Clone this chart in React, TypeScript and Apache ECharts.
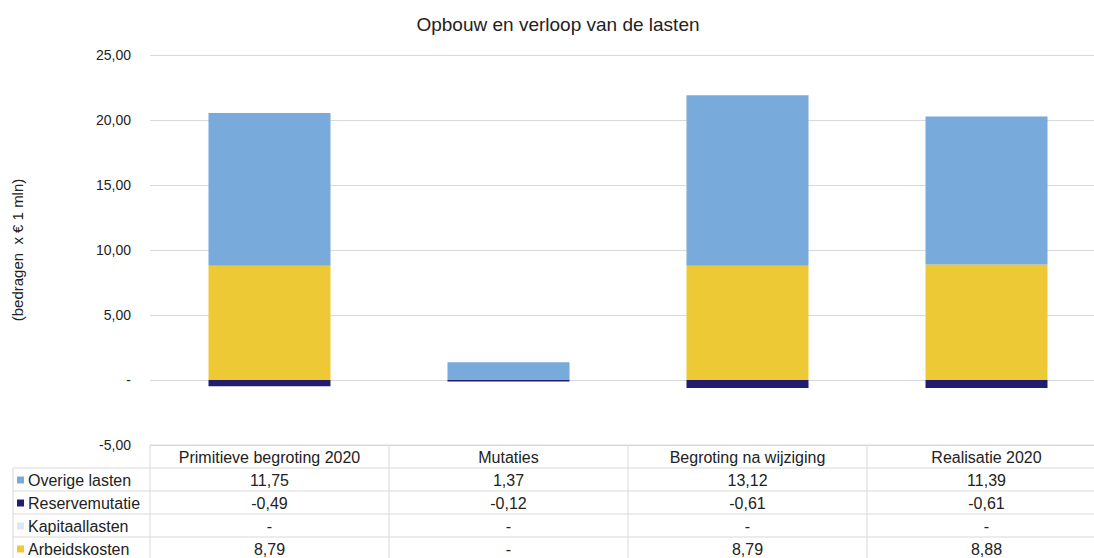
import React, { useEffect, useRef } from "react";
import * as echarts from "echarts";

const categories = ["Primitieve begroting 2020", "Mutaties", "Begroting na wijziging", "Realisatie 2020"];
const seriesNames = ["Overige lasten", "Reservemutatie", "Kapitaallasten", "Arbeidskosten"];
const overigeLasten = [11.75, 1.37, 13.12, 11.39];
const reservemutatie = [-0.49, -0.12, -0.61, -0.61];
const kapitaallasten = [0, 0, 0, 0];
const arbeidskosten = [8.79, 0, 8.79, 8.88];
const yTicks = { min: -5, max: 25, interval: 5 };

const colors = {
  "Overige lasten": "#78aadc",
  Reservemutatie: "#221d6e",
  Kapitaallasten: "#dde8f4",
  Arbeidskosten: "#ecc935",
};

const fmt = (v: number) => (v === 0 ? "-" : v.toFixed(2).replace(".", ","));

export default function App() {
  const ref = useRef<HTMLDivElement>(null);
  useEffect(() => {
    document.body.style.margin = "0";
    const chart = echarts.init(ref.current!, null, { renderer: "svg" });
    const font = "Arial, 'Liberation Sans', sans-serif";
    const gridLeft = 150;
    const colW = 239;
    const gridTop = 55;
    const gridBottomY = 445;
    const rowTops = [445, 468, 491, 514, 537, 560];
    const tableLeft = 13;
    const lineColor = "#d9d9d9";
    const textColor = "#222";
    const tableFont = `16px ${font}`;
    const values = [overigeLasten, reservemutatie, kapitaallasten, arbeidskosten];

    const graphics: any[] = [];
    graphics.push({ type: "line", shape: { x1: gridLeft, y1: rowTops[0], x2: 1110, y2: rowTops[0] }, style: { stroke: lineColor, lineWidth: 1 }, silent: true });
    for (let r = 1; r < rowTops.length; r++) {
      graphics.push({ type: "line", shape: { x1: tableLeft, y1: rowTops[r], x2: 1110, y2: rowTops[r] }, style: { stroke: lineColor, lineWidth: 1 }, silent: true });
    }
    graphics.push({ type: "line", shape: { x1: tableLeft, y1: rowTops[1], x2: tableLeft, y2: 560 }, style: { stroke: lineColor, lineWidth: 1 }, silent: true });
    for (let c = 0; c < categories.length; c++) {
      const x = gridLeft + c * colW;
      graphics.push({ type: "line", shape: { x1: x, y1: rowTops[0], x2: x, y2: 560 }, style: { stroke: lineColor, lineWidth: 1 }, silent: true });
    }
    categories.forEach((cat, c) => {
      graphics.push({
        type: "text",
        x: gridLeft + c * colW + colW / 2,
        y: (rowTops[0] + rowTops[1]) / 2 + 1,
        style: { text: cat, fill: textColor, font: tableFont, align: "center", verticalAlign: "middle" },
        silent: true,
      });
    });
    seriesNames.forEach((name, r) => {
      const cy = (rowTops[r + 1] + rowTops[r + 2]) / 2 + 1;
      graphics.push({ type: "rect", shape: { x: 17, y: cy - 4, width: 7, height: 7 }, style: { fill: (colors as any)[name] }, silent: true });
      graphics.push({
        type: "text",
        x: 28,
        y: cy,
        style: { text: name, fill: textColor, font: tableFont, align: "left", verticalAlign: "middle" },
        silent: true,
      });
      values[r].forEach((v, c) => {
        graphics.push({
          type: "text",
          x: gridLeft + c * colW + colW / 2,
          y: cy,
          style: { text: fmt(v), fill: textColor, font: tableFont, align: "center", verticalAlign: "middle" },
          silent: true,
        });
      });
    });

    const barW = 122;
    chart.setOption({
      animation: false,
      backgroundColor: "#fff",
      title: {
        text: "Opbouw en verloop van de lasten",
        left: 553,
        textAlign: "center",
        top: 10,
        textStyle: { fontFamily: font, fontSize: 19, fontWeight: "normal", color: textColor },
      },
      grid: { left: gridLeft, top: gridTop, width: colW * categories.length, height: gridBottomY - gridTop },
      xAxis: {
        type: "category",
        data: categories,
        axisLine: { show: false },
        axisTick: { show: false },
        axisLabel: { show: false },
      },
      yAxis: {
        type: "value",
        min: yTicks.min,
        max: yTicks.max,
        interval: yTicks.interval,
        name: "(bedragen  x € 1 mln)",
        nameLocation: "middle",
        nameGap: 125,
        nameRotate: 90,
        nameTextStyle: { fontFamily: font, fontSize: 15, color: textColor },
        axisLine: { show: false },
        axisTick: { show: false },
        axisLabel: {
          margin: 19,
          fontFamily: font,
          fontSize: 14,
          color: textColor,
          formatter: (v: number) => (v === 0 ? "-" : v.toFixed(2).replace(".", ",")),
        },
        splitLine: { lineStyle: { color: lineColor, width: 1 } },
      },
      series: [
        { name: "Arbeidskosten", type: "bar", stack: "s", data: arbeidskosten, barWidth: barW, itemStyle: { color: colors.Arbeidskosten } },
        { name: "Kapitaallasten", type: "bar", stack: "s", data: kapitaallasten, barWidth: barW, itemStyle: { color: colors.Kapitaallasten } },
        { name: "Overige lasten", type: "bar", stack: "s", data: overigeLasten, barWidth: barW, itemStyle: { color: colors["Overige lasten"] } },
        { name: "Reservemutatie", type: "bar", stack: "s", data: reservemutatie, barWidth: barW, itemStyle: { color: colors.Reservemutatie } },
      ],
      graphic: graphics,
    });
    return () => chart.dispose();
  }, []);
  return (
    <div style={{ width: 1094, height: 558, overflow: "hidden", position: "relative" }}>
      <div ref={ref} style={{ width: 1110, height: 558 }} />
    </div>
  );
}
